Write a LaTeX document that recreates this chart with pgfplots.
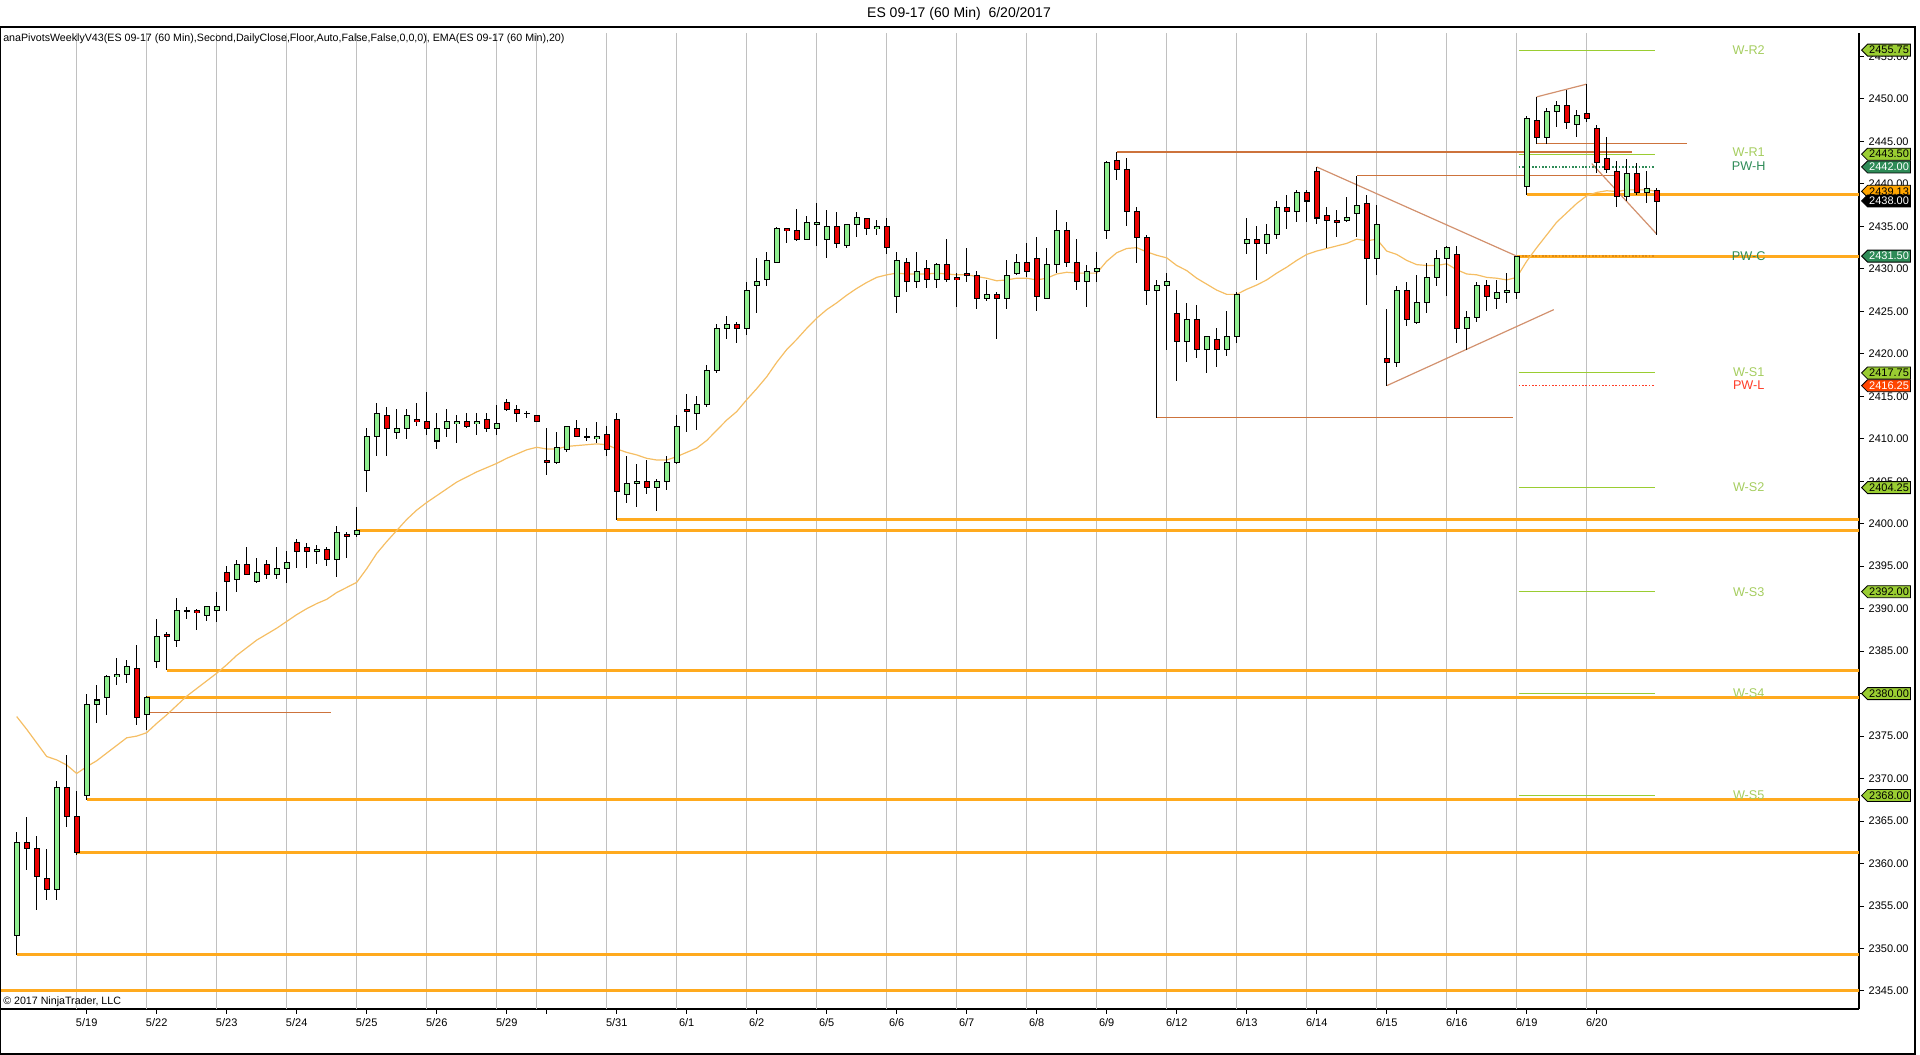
\documentclass[border=0pt]{standalone}
\usepackage{fontspec}
\setmainfont{Liberation Sans}
\usepackage{pgfplots}
\pgfplotsset{compat=1.18}
\usepackage{pgfplotstable}
\usetikzlibrary{shapes.symbols}

\definecolor{upc}{RGB}{144,238,144}
\definecolor{dnc}{RGB}{235,0,0}
\definecolor{gridc}{RGB}{192,192,192}
\definecolor{orl}{RGB}{255,170,30}
\definecolor{brn}{RGB}{205,115,60}
\definecolor{brn2}{RGB}{210,145,110}
\definecolor{emac}{RGB}{245,190,100}
\definecolor{ygr}{RGB}{154,205,50}
\definecolor{ygrt}{RGB}{165,205,95}
\definecolor{sgr}{RGB}{46,139,87}
\definecolor{ored}{RGB}{255,69,0}
\definecolor{pwl}{RGB}{255,60,40}
\definecolor{emat}{RGB}{255,165,0}
\definecolor{pwc}{RGB}{225,140,20}

\pgfplotstableread{
i o h l c
0 2351.5 2363.75 2349.25 2362.5
1 2362.5 2365.5 2359.25 2361.75
2 2361.75 2363.25 2354.5 2358.5
3 2358.25 2361.75 2355.75 2357.0
4 2357.0 2369.75 2355.75 2369.0
5 2369.0 2372.75 2364.25 2365.5
6 2365.5 2368.5 2361.0 2361.25
7 2368.0 2380.0 2367.5 2378.75
8 2378.75 2381.0 2376.5 2379.25
9 2379.5 2382.25 2377.5 2382.0
10 2382.0 2384.25 2381.0 2382.25
11 2382.25 2384.0 2381.25 2383.25
12 2383.0 2385.75 2376.25 2377.25
13 2377.5 2379.75 2375.75 2379.5
14 2383.75 2388.75 2383.0 2386.75
15 2387.0 2387.25 2382.75 2386.75
16 2386.25 2391.25 2385.5 2389.75
17 2389.75 2390.25 2388.75 2389.75
18 2389.75 2390.0 2387.5 2389.5
19 2389.25 2390.25 2388.5 2390.25
20 2389.75 2392.0 2388.5 2390.25
21 2394.25 2395.0 2389.75 2393.25
22 2393.5 2395.75 2392.0 2395.25
23 2395.25 2397.25 2394.0 2394.0
24 2393.25 2396.0 2393.0 2394.25
25 2395.25 2395.75 2393.5 2394.0
26 2394.0 2397.25 2393.5 2394.75
27 2394.75 2396.75 2393.0 2395.5
28 2397.75 2398.25 2394.75 2396.75
29 2397.25 2397.75 2394.75 2396.75
30 2396.75 2397.5 2395.25 2397.0
31 2397.0 2397.25 2395.0 2395.75
32 2395.75 2399.75 2393.75 2399.0
33 2398.75 2399.0 2396.0 2398.5
34 2398.75 2402.0 2398.5 2399.25
35 2406.25 2411.25 2403.75 2410.25
36 2410.25 2414.25 2408.0 2413.0
37 2412.75 2413.75 2408.0 2411.25
38 2410.75 2413.5 2410.0 2411.25
39 2411.25 2413.5 2410.0 2412.75
40 2412.25 2414.25 2411.5 2412.0
41 2412.0 2415.5 2410.5 2411.25
42 2409.75 2413.0 2408.75 2411.25
43 2411.25 2413.5 2410.25 2412.0
44 2411.75 2412.75 2409.5 2412.0
45 2412.0 2413.0 2411.25 2411.5
46 2411.75 2413.0 2410.5 2412.0
47 2412.25 2413.0 2410.75 2411.25
48 2411.25 2414.0 2410.5 2411.75
49 2414.25 2414.75 2413.25 2413.5
50 2413.5 2414.0 2412.0 2413.0
51 2413.0 2413.25 2412.5 2413.0
52 2412.75 2412.75 2412.0 2412.0
53 2407.5 2411.25 2405.75 2407.25
54 2407.25 2410.75 2407.0 2409.0
55 2408.75 2411.5 2408.5 2411.5
56 2411.25 2412.25 2410.25 2410.25
57 2410.25 2411.25 2409.75 2410.25
58 2410.0 2412.0 2409.5 2410.25
59 2410.5 2411.5 2408.0 2408.75
60 2412.25 2413.0 2400.5 2403.75
61 2403.5 2408.0 2402.5 2404.75
62 2404.75 2407.0 2402.0 2405.0
63 2405.0 2407.5 2403.5 2404.25
64 2404.25 2405.25 2401.5 2405.0
65 2405.0 2408.0 2404.0 2407.25
66 2407.25 2412.75 2407.0 2411.5
67 2413.5 2415.25 2410.75 2413.25
68 2413.0 2415.0 2411.0 2414.0
69 2414.0 2418.75 2413.75 2418.0
70 2418.0 2423.5 2417.75 2423.0
71 2423.0 2424.5 2421.75 2423.5
72 2423.5 2423.75 2421.25 2423.0
73 2423.0 2428.5 2422.25 2427.5
74 2428.0 2431.25 2424.75 2428.5
75 2428.75 2432.0 2428.0 2431.0
76 2430.75 2435.0 2430.75 2434.75
77 2434.75 2434.75 2433.0 2434.5
78 2434.5 2437.0 2433.25 2433.5
79 2433.5 2436.25 2433.5 2435.5
80 2435.25 2437.75 2432.75 2435.5
81 2433.5 2437.0 2431.25 2435.0
82 2435.0 2436.75 2432.5 2433.0
83 2432.75 2435.25 2432.5 2435.25
84 2435.25 2436.75 2433.75 2436.0
85 2436.0 2436.0 2434.0 2434.75
86 2434.75 2435.75 2434.0 2435.0
87 2435.0 2436.0 2431.75 2432.5
88 2426.75 2432.0 2424.75 2431.0
89 2430.75 2431.25 2427.25 2428.5
90 2428.5 2432.0 2427.75 2429.75
91 2430.0 2431.0 2427.75 2428.75
92 2428.75 2430.75 2427.75 2430.5
93 2430.5 2433.5 2428.5 2428.75
94 2429.0 2429.5 2425.5 2428.75
95 2429.5 2432.5 2428.5 2429.25
96 2429.25 2429.75 2425.25 2426.5
97 2426.5 2428.75 2426.25 2427.0
98 2427.0 2427.25 2421.75 2426.5
99 2426.5 2431.0 2425.25 2429.25
100 2429.5 2431.75 2429.25 2430.75
101 2430.75 2433.0 2429.0 2429.75
102 2431.25 2433.75 2425.0 2426.75
103 2426.5 2432.5 2426.5 2430.5
104 2430.5 2437.0 2429.5 2434.5
105 2434.5 2435.5 2430.25 2430.75
106 2430.75 2433.5 2427.5 2428.5
107 2428.5 2430.5 2425.5 2429.75
108 2429.75 2432.0 2428.5 2430.0
109 2434.5 2442.75 2433.5 2442.5
110 2442.75 2443.75 2440.5 2441.75
111 2441.75 2443.0 2435.0 2436.75
112 2436.75 2437.25 2430.75 2433.75
113 2433.75 2434.0 2425.75 2427.5
114 2427.5 2428.75 2412.5 2428.0
115 2428.0 2429.5 2420.5 2428.5
116 2424.75 2427.5 2416.75 2421.5
117 2421.5 2426.0 2419.0 2424.0
118 2424.0 2425.75 2419.5 2420.5
119 2420.5 2422.0 2417.75 2422.0
120 2421.75 2423.0 2418.5 2420.5
121 2420.5 2425.0 2419.75 2422.0
122 2422.0 2427.25 2421.25 2427.0
123 2433.0 2436.0 2431.75 2433.5
124 2433.5 2435.0 2428.75 2433.0
125 2433.0 2435.25 2431.75 2434.0
126 2434.0 2438.0 2433.5 2437.25
127 2437.25 2438.75 2434.75 2436.75
128 2436.75 2439.25 2435.5 2439.0
129 2439.0 2439.25 2435.5 2438.0
130 2441.5 2442.0 2435.25 2436.0
131 2436.25 2437.25 2432.5 2435.75
132 2435.75 2437.0 2433.75 2435.5
133 2435.75 2438.5 2435.5 2436.0
134 2436.5 2441.0 2433.75 2437.5
135 2437.75 2438.75 2425.75 2431.25
136 2431.25 2437.5 2429.25 2435.25
137 2419.5 2425.25 2416.25 2419.0
138 2419.0 2428.0 2418.5 2427.5
139 2427.5 2428.5 2423.25 2424.0
140 2423.75 2429.25 2423.5 2426.0
141 2426.0 2430.75 2424.75 2429.0
142 2429.0 2432.25 2428.0 2431.25
143 2431.25 2432.75 2426.75 2432.5
144 2431.75 2432.75 2421.25 2423.0
145 2423.0 2425.0 2420.5 2424.25
146 2424.25 2428.5 2423.75 2428.0
147 2428.0 2428.75 2425.0 2426.75
148 2426.5 2428.75 2425.25 2427.25
149 2427.25 2429.5 2426.0 2427.5
150 2427.25 2431.5 2426.5 2431.5
151 2439.75 2448.0 2438.75 2447.75
152 2447.5 2450.25 2444.75 2445.5
153 2445.5 2449.0 2444.75 2448.5
154 2448.5 2449.75 2446.75 2449.25
155 2449.25 2451.0 2446.5 2447.25
156 2447.0 2448.75 2445.5 2448.0
157 2448.25 2451.75 2447.25 2447.75
158 2446.5 2447.0 2441.25 2442.5
159 2443.0 2445.5 2441.25 2441.75
160 2441.5 2442.75 2437.25 2438.5
161 2438.5 2443.0 2438.0 2441.25
162 2441.25 2442.5 2438.75 2439.0
163 2439.0 2441.5 2437.75 2439.5
164 2439.25 2439.5 2434.0 2438.0
}\candles

\pgfplotstableread{
i e
0 2377.3
1 2375.8
2 2374.2
3 2372.6
4 2372.2
5 2371.6
6 2370.6
7 2371.4
8 2372.1
9 2373.0
10 2373.9
11 2374.8
12 2375.0
13 2375.4
14 2376.5
15 2377.5
16 2378.6
17 2379.7
18 2380.6
19 2381.5
20 2382.4
21 2383.4
22 2384.5
23 2385.4
24 2386.3
25 2387.0
26 2387.7
27 2388.5
28 2389.3
29 2390.0
30 2390.6
31 2391.1
32 2391.9
33 2392.5
34 2393.1
35 2394.7
36 2396.5
37 2397.9
38 2399.2
39 2400.5
40 2401.6
41 2402.5
42 2403.3
43 2404.1
44 2404.9
45 2405.5
46 2406.1
47 2406.6
48 2407.1
49 2407.7
50 2408.2
51 2408.7
52 2409.0
53 2408.8
54 2408.8
55 2409.1
56 2409.2
57 2409.3
58 2409.4
59 2409.3
60 2408.8
61 2408.4
62 2408.1
63 2407.7
64 2407.5
65 2407.5
66 2407.9
67 2408.4
68 2408.9
69 2409.8
70 2411.0
71 2412.2
72 2413.2
73 2414.6
74 2415.9
75 2417.3
76 2419.0
77 2420.5
78 2421.7
79 2423.0
80 2424.2
81 2425.2
82 2426.0
83 2426.9
84 2427.7
85 2428.4
86 2429.0
87 2429.3
88 2429.5
89 2429.4
90 2429.4
91 2429.4
92 2429.5
93 2429.4
94 2429.3
95 2429.3
96 2429.1
97 2428.9
98 2428.6
99 2428.7
100 2428.9
101 2428.9
102 2428.7
103 2428.9
104 2429.4
105 2429.6
106 2429.5
107 2429.5
108 2429.5
109 2430.9
110 2431.9
111 2432.4
112 2432.5
113 2432.0
114 2431.6
115 2431.3
116 2430.4
117 2429.8
118 2428.9
119 2428.2
120 2427.5
121 2427.0
122 2427.0
123 2427.6
124 2428.1
125 2428.7
126 2429.5
127 2430.2
128 2431.0
129 2431.7
130 2432.1
131 2432.4
132 2432.7
133 2433.0
134 2433.5
135 2433.3
136 2433.5
137 2432.1
138 2431.7
139 2431.0
140 2430.5
141 2430.4
142 2430.4
143 2430.6
144 2429.9
145 2429.4
146 2429.3
147 2429.0
148 2428.9
149 2428.7
150 2429.0
151 2430.9
152 2432.5
153 2434.0
154 2435.5
155 2436.6
156 2437.7
157 2438.6
158 2439.0
159 2439.2
160 2439.1
161 2439.3
162 2439.3
163 2439.3
164 2439.13
}\ematab

\tikzset{
  tag/.style 2 args={shape=signal, signal to=west, signal pointer angle=90,
    draw=black, line width=0.6pt, fill=#1, text=#2, inner xsep=1.2pt, inner ysep=0.8pt,
    minimum height=9pt, anchor=west, font=\fontsize{8.25}{9}\selectfont},
  plab/.style={font=\fontsize{9.5}{11}\selectfont, text=#1}
}
\pgfplotsset{
  cbar/.style={mark=none, draw=none, forget plot,
    error bars/.cd, y dir=both, y explicit, error mark=none}
}

\begin{document}
\begin{tikzpicture}
\begin{axis}[
  at={(0pt,0pt)}, anchor=south west, scale only axis,
  width=1394.25pt, height=732pt,
  xmin=-1.67, xmax=184.23, ymin=2342.877, ymax=2457.769,
  axis x line*=bottom, axis y line*=right,
  axis line style={black, line width=0.9pt, -},
  clip=false,
  tick align=outside,
  major tick length=3.75pt,
  tick style={black, line width=0.75pt},
  xtick={7,14,21,28,35,42,49,53,60,67,74,81,88,95,102,109,116,123,130,137,144,151,158},
  xticklabels={5/19,5/22,5/23,5/24,5/25,5/26,5/29,{},5/31,6/1,6/2,6/5,6/6,6/7,6/8,6/9,6/12,6/13,6/14,6/15,6/16,6/19,6/20},
  ytick={2345,2350,...,2455},
  scaled y ticks=false,
  /pgf/number format/assume math mode=true,
  yticklabel={\pgfmathprintnumber[fixed,fixed zerofill,precision=2,1000 sep={}]{\tick}},
  ticklabel style={font=\fontsize{8.25}{9}\selectfont},
  extra x ticks={6,13,20,27,34,41,48,52,59,66,73,80,87,94,101,108,115,122,129,136,143,150,157},
  extra x tick labels={},
  extra x tick style={grid=major, major tick length=0pt},
  major grid style={gridc, line width=0.75pt},
]
% thick orange levels
\addplot[orl, line width=2.2pt, forget plot] coordinates {(-1.67,2345.0) (184.23,2345.0)};
\addplot[orl, line width=2.2pt, forget plot] coordinates {(0,2349.25) (184.23,2349.25)};
\addplot[orl, line width=2.2pt, forget plot] coordinates {(6,2361.25) (184.23,2361.25)};
\addplot[orl, line width=2.2pt, forget plot] coordinates {(7,2367.5) (184.23,2367.5)};
\addplot[orl, line width=2.2pt, forget plot] coordinates {(13,2379.5) (184.23,2379.5)};
\addplot[orl, line width=2.2pt, forget plot] coordinates {(15,2382.75) (184.23,2382.75)};
\addplot[orl, line width=2.2pt, forget plot] coordinates {(34,2399.25) (184.23,2399.25)};
\addplot[orl, line width=2.2pt, forget plot] coordinates {(60,2400.5) (184.23,2400.5)};
\addplot[orl, line width=2.2pt, forget plot] coordinates {(150,2431.5) (184.23,2431.5)};
\addplot[orl, line width=2.2pt, forget plot] coordinates {(151,2438.75) (184.23,2438.75)};
% thin brown lines
\addplot[brn, line width=0.9pt, forget plot] coordinates {(13,2377.75) (31.4,2377.75)};
\addplot[brn, line width=0.9pt, forget plot] coordinates {(110,2443.75) (161.5,2443.75)};
\addplot[brn, line width=0.9pt, forget plot] coordinates {(134,2441.0) (160,2441.0)};
\addplot[brn, line width=0.9pt, forget plot] coordinates {(114,2412.5) (149.6,2412.5)};
\addplot[brn, line width=0.9pt, forget plot] coordinates {(152,2444.75) (167,2444.75)};
\addplot[brn2, line width=0.9pt, forget plot] coordinates {(130,2442.0) (150,2431.5)};
\addplot[brn2, line width=0.9pt, forget plot] coordinates {(137,2416.25) (153.7,2425.2)};
\addplot[brn2, line width=0.9pt, forget plot] coordinates {(152,2450.25) (157,2451.75)};
\addplot[brn2, line width=0.9pt, forget plot] coordinates {(157.5,2442.4) (164,2434.1)};
% pivot lines
\addplot[ygr, line width=0.8pt, forget plot] coordinates {(150.2,2455.75) (163.8,2455.75)};
\addplot[ygr, line width=0.8pt, forget plot] coordinates {(150.2,2443.5) (163.8,2443.5)};
\addplot[sgr, line width=1.1pt, dash pattern=on 1.1pt off 1.4pt, forget plot] coordinates {(150.2,2442.0) (163.8,2442.0)};
\addplot[pwc, line width=1.1pt, dash pattern=on 1.1pt off 1.4pt, forget plot] coordinates {(150.2,2431.5) (163.8,2431.5)};
\addplot[ygr, line width=0.8pt, forget plot] coordinates {(150.2,2417.75) (163.8,2417.75)};
\addplot[pwl, line width=1.1pt, dash pattern=on 1.1pt off 1.4pt, forget plot] coordinates {(150.2,2416.25) (163.8,2416.25)};
\addplot[ygr, line width=0.8pt, forget plot] coordinates {(150.2,2404.25) (163.8,2404.25)};
\addplot[ygr, line width=0.8pt, forget plot] coordinates {(150.2,2392.0) (163.8,2392.0)};
\addplot[ygr, line width=0.8pt, forget plot] coordinates {(150.2,2380.0) (163.8,2380.0)};
\addplot[ygr, line width=0.8pt, forget plot] coordinates {(150.2,2368.0) (163.8,2368.0)};
% EMA
\addplot[emac, line width=0.9pt, mark=none, forget plot] table[x=i, y=e] {\ematab};
% candles: wicks
\addplot[cbar, error bar style={draw=black, line width=0.75pt}]
  table[x=i, y expr={(\thisrow{h}+\thisrow{l})/2}, y error expr={(\thisrow{h}-\thisrow{l})/2}] {\candles};
% bodies outline
\addplot[cbar, error bar style={draw=black, line width=4.5pt}]
  table[x=i, y expr={(\thisrow{o}+\thisrow{c})/2}, y error expr={abs(\thisrow{o}-\thisrow{c})/2+0.06}] {\candles};
% up bodies
\addplot[mark=none, draw=none, forget plot, restrict expr to domain={\thisrow{c}-\thisrow{o}}{0:1000},
  error bars/.cd, y dir=both, y explicit, error mark=none, error bar style={draw=upc, line width=3pt}]
  table[x=i, y expr={(\thisrow{o}+\thisrow{c})/2}, y error expr={max(abs(\thisrow{o}-\thisrow{c})/2-0.06,0)}] {\candles};
% down bodies
\addplot[mark=none, draw=none, forget plot, restrict expr to domain={\thisrow{o}-\thisrow{c}}{0.001:1000},
  error bars/.cd, y dir=both, y explicit, error mark=none, error bar style={draw=dnc, line width=3pt}]
  table[x=i, y expr={(\thisrow{o}+\thisrow{c})/2}, y error expr={max(abs(\thisrow{o}-\thisrow{c})/2-0.06,0)}] {\candles};
% pivot labels
\node[plab=ygrt] at (axis cs:173.2,2455.75) {W-R2};
\node[plab=ygrt] at (axis cs:173.2,2443.75) {W-R1};
\node[plab=sgr] at (axis cs:173.2,2442.15) {PW-H};
\node[plab=sgr] at (axis cs:173.2,2431.5) {PW-C};
\node[plab=ygrt] at (axis cs:173.2,2417.85) {W-S1};
\node[plab=pwl] at (axis cs:173.2,2416.3) {PW-L};
\node[plab=ygrt] at (axis cs:173.2,2404.25) {W-S2};
\node[plab=ygrt] at (axis cs:173.2,2392.0) {W-S3};
\node[plab=ygrt] at (axis cs:173.2,2380.0) {W-S4};
\node[plab=ygrt] at (axis cs:173.2,2368.0) {W-S5};
% tag anchors
\coordinate (t1) at (axis cs:184.23,2455.75);
\coordinate (t2) at (axis cs:184.23,2443.5);
\coordinate (t3) at (axis cs:184.23,2442.0);
\coordinate (t4) at (axis cs:184.23,2439.13);
\coordinate (t5) at (axis cs:184.23,2438.0);
\coordinate (t6) at (axis cs:184.23,2431.5);
\coordinate (t7) at (axis cs:184.23,2417.75);
\coordinate (t8) at (axis cs:184.23,2416.25);
\coordinate (t9) at (axis cs:184.23,2404.25);
\coordinate (t10) at (axis cs:184.23,2392.0);
\coordinate (t11) at (axis cs:184.23,2380.0);
\coordinate (t12) at (axis cs:184.23,2368.0);
\end{axis}
% price tags
\node[tag={ygr}{black}, xshift=1.5pt] at (t1) {2455.75};
\node[tag={ygr}{black}, xshift=1.5pt] at (t2) {2443.50};
\node[tag={sgr}{white}, xshift=1.5pt] at (t3) {2442.00};
\node[tag={emat}{black}, xshift=1.5pt] at (t4) {2439.13};
\node[tag={black}{white}, xshift=1.5pt] at (t5) {2438.00};
\node[tag={sgr}{white}, xshift=1.5pt] at (t6) {2431.50};
\node[tag={ygr}{black}, xshift=1.5pt] at (t7) {2417.75};
\node[tag={ored}{white}, xshift=1.5pt] at (t8) {2416.25};
\node[tag={ygr}{black}, xshift=1.5pt] at (t9) {2404.25};
\node[tag={ygr}{black}, xshift=1.5pt] at (t10) {2392.00};
\node[tag={ygr}{black}, xshift=1.5pt] at (t11) {2380.00};
\node[tag={ygr}{black}, xshift=1.5pt] at (t12) {2368.00};
\begin{scope}[x=0.75pt,y=0.75pt]
  \draw[black, line width=1.1pt] (0.7,-45) rectangle (1915,982);
  \node[font=\fontsize{10.5}{12}\selectfont] at (959,995.5) {ES 09-17 (60 Min)\ \ 6/20/2017};
  \node[anchor=west, inner sep=0pt, font=\fontsize{8}{9}\selectfont] at (3,970) {anaPivotsWeeklyV43(ES 09-17 (60 Min),Second,DailyClose,Floor,Auto,False,False,0,0,0), EMA(ES 09-17 (60 Min),20)};
  \node[anchor=west, inner sep=0pt, font=\fontsize{8}{9}\selectfont] at (3,7) {© 2017 NinjaTrader, LLC};
  \pgfresetboundingbox
  \path[use as bounding box] (0,-46) rectangle (1920,1009);
\end{scope}
\end{tikzpicture}
\end{document}
